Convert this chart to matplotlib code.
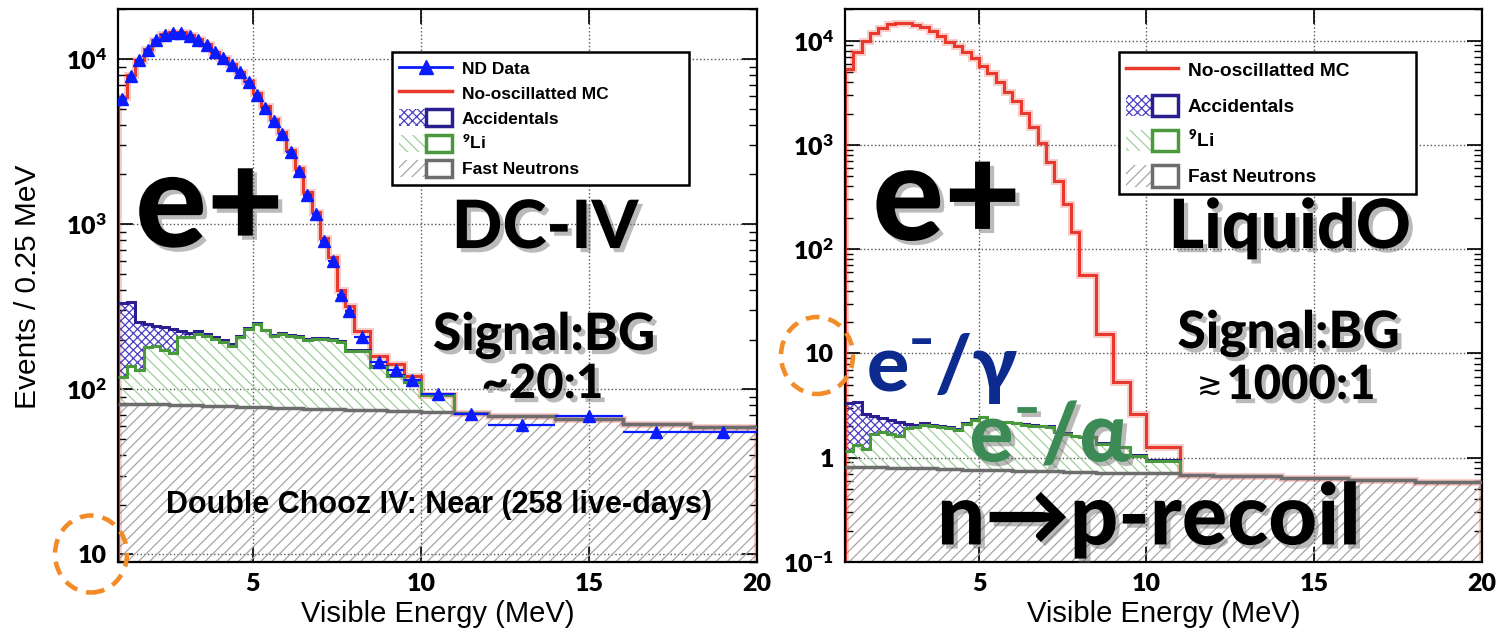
import numpy as np
import matplotlib
matplotlib.use('Agg')
import matplotlib.pyplot as plt
import matplotlib.patheffects as pe
from matplotlib.patches import Patch, Ellipse
from matplotlib.lines import Line2D
from matplotlib.legend_handler import HandlerTuple

# ---------------- data ----------------
# bin edges (MeV): 0.25 MeV up to 8, 0.5 up to 10, 1 up to 12, 2 up to 20
edges = np.concatenate([np.arange(1.0, 8.0, 0.25), [8.0, 8.5, 9.0, 9.5, 10.0, 11.0, 12.0, 14.0, 16.0, 18.0, 20.0]])

# Double Chooz IV near detector (events / 0.25 MeV)
dc_data = [5730, 7900, 9850, 11300, 13000, 14000, 14400, 14350, 13850, 13000,
           12150, 10950, 10100, 9200, 8350, 7300, 6050, 5050, 4230, 3520,
           2730, 2110, 1500, 1153, 794, 601, 374, 299,
           207, 146, 131, 114, 94, 71, 61, 69, 55, 55]
dc_mc = [5900, 8000, 9900, 11500, 13100, 14200, 14600, 14500, 14000, 13200,
         12300, 11100, 10200, 9300, 8400, 7400, 6200, 5200, 4350, 3600,
         2800, 2200, 1560, 1180, 830, 630, 400, 320,
         225, 160, 142, 120, 92, 72, 69, 66, 62, 59]
dc_fn = [82, 82, 82, 81, 81, 81, 80, 80, 80, 80, 79, 79, 79, 79, 78, 78, 78, 78,
         77, 77, 77, 77, 76, 76, 76, 76, 76, 75,
         75, 75, 74, 74, 73, 72, 69, 66, 62, 59]
dc_li9 = [37, 57, 48, 99, 103, 92, 87, 127, 127, 136, 132, 123, 115, 105, 129, 154,
          171, 149, 134, 139, 134, 130, 123, 126, 126, 124, 117, 95,
          95, 62, 47, 36, 19, 0, 0, 0, 0, 0]
dc_acc = [213, 197, 124, 70, 59, 65, 65, 19, 12, 8, 6, 5, 4, 4, 3, 3, 3, 3,
          2, 2, 2, 2, 2, 2, 2, 2, 2, 2,
          2, 2, 1, 1, 1, 0, 0, 0, 0, 0]

# LiquidO projection
lo_mc = [5350, 7730, 9850, 11850, 13250, 14460, 14890, 14790, 14230, 13430,
         12280, 10990, 9770, 8810, 7730, 6770, 5750, 4860, 3980, 3240,
         2660, 2030, 1480, 1040, 692, 455, 272, 145,
         56.7, 15.2, 5.3, 2.6, 1.26, 0.69, 0.67, 0.64, 0.61, 0.58]
lo_fn = [0.82, 0.82, 0.81, 0.81, 0.81, 0.80, 0.80, 0.80, 0.79, 0.79, 0.79, 0.78,
         0.78, 0.78, 0.77, 0.77, 0.77, 0.76, 0.76, 0.76, 0.75, 0.75, 0.75, 0.74,
         0.74, 0.74, 0.73, 0.73,
         0.73, 0.72, 0.72, 0.71, 0.71, 0.69, 0.67, 0.64, 0.61, 0.58]
lo_li9 = [0.33, 0.49, 0.41, 0.88, 0.95, 0.89, 0.83, 1.14, 1.17, 1.28, 1.24, 1.18,
          1.14, 1.08, 1.34, 1.54, 1.67, 1.52, 1.40, 1.44, 1.40, 1.33, 1.28, 1.26,
          1.24, 1.01, 0.96, 0.87,
          0.84, 0.64, 0.54, 0.34, 0.23, 0, 0, 0, 0, 0]
lo_acc = [2.18, 2.09, 1.42, 0.85, 0.65, 0.61, 0.56, 0.16, 0.10, 0.06, 0.05, 0.04,
          0.03, 0.03, 0.03, 0.02, 0.02, 0.02, 0.02, 0.02, 0.02, 0.02, 0.02, 0.02,
          0.02, 0.02, 0.02, 0.02,
          0.02, 0.01, 0.01, 0.01, 0.01, 0, 0, 0, 0, 0]

# ---------------- style ----------------
RED = '#e8392d'
BLUE = '#0a1bff'
PURPLE = '#2b1e8f'
PURPLE_H = '#4c3fc2'
GREEN = '#4a9a3d'
GREEN_H = '#9fd09a'
GRAY = '#6d6d6d'
GRAY_H = '#a5a5a5'
ORANGE = '#f28c28'

plt.rcParams['font.family'] = ['Liberation Sans', 'DejaVu Sans']
plt.rcParams['mathtext.fontset'] = 'custom'
plt.rcParams['mathtext.rm'] = 'Lato:heavy'
plt.rcParams['mathtext.bf'] = 'Lato:heavy'
plt.rcParams['mathtext.it'] = 'Lato:heavy'
plt.rcParams['hatch.linewidth'] = 0.9

BIG = ['Lato', 'DejaVu Sans']
shadow = [pe.withSimplePatchShadow(offset=(3, -3), shadow_rgbFace='#666666', alpha=0.45)]


def draw_panel(ax, mc, acc, li9, fn, ymin, yticks, ylabels):
    fn = np.array(fn, dtype=float)
    s_li = fn + np.array(li9)
    s_acc = s_li + np.array(acc)
    low = ymin * 1e-3
    ax.stairs(mc, edges, baseline=low, color=RED, lw=5, alpha=0.25, zorder=2)
    ax.stairs(mc, edges, baseline=low, color=RED, lw=2.2, zorder=2.1)
    # stacked backgrounds: hatch fills
    ax.stairs(fn, edges, baseline=low, fill=True, facecolor='none', edgecolor=GRAY_H,
              hatch='///', lw=0, zorder=1.5)
    ax.stairs(s_li, edges, baseline=fn, fill=True, facecolor='none', edgecolor=GREEN_H,
              hatch='\\\\\\', lw=0, zorder=1.5)
    ax.stairs(s_acc, edges, baseline=s_li, fill=True, facecolor='none', edgecolor=PURPLE_H,
              hatch='xxxx', lw=0, zorder=1.5)
    # outlines
    ax.stairs(s_acc, edges, baseline=None, color=PURPLE, lw=2.2, zorder=3)
    ax.stairs(s_li, edges, baseline=None, color=GREEN, lw=2.2, zorder=3.1)
    ax.stairs(fn, edges, baseline=None, color=GRAY, lw=2.5, zorder=3.2)

    ax.set_yscale('log')
    ax.set_xlim(1, 20)
    ax.set_ylim(ymin, 2e4)
    ax.set_xticks([5, 10, 15, 20])
    ax.set_xticklabels(['5', '10', '15', '20'], fontsize=18, fontweight='heavy', family=BIG)
    ax.set_yticks(yticks)
    ax.set_yticklabels(ylabels, fontsize=18, fontweight='heavy', family=BIG)
    ax.xaxis.set_minor_locator(matplotlib.ticker.NullLocator())
    ax.tick_params(which='both', direction='in', top=True, right=True)
    ax.tick_params(which='major', length=11, width=1.2, pad=8)
    ax.tick_params(which='minor', length=5.5, width=1.0)
    ax.grid(True, which='major', linestyle=':', color='#555555', lw=1.0)
    ax.set_axisbelow(True)
    for s in ax.spines.values():
        s.set_linewidth(1.6)


fig = plt.figure(figsize=(15.03, 6.32), dpi=100)
ax1 = fig.add_axes([0.0787, 0.1108, 0.4250, 0.8745])
ax2 = fig.add_axes([0.5622, 0.1108, 0.4235, 0.8745])

draw_panel(ax1, dc_mc, dc_acc, dc_li9, dc_fn, 9,
           [10, 100, 1000, 10000], ['10', '$10^{2}$', '$10^{3}$', '$10^{4}$'])
draw_panel(ax2, lo_mc, lo_acc, lo_li9, lo_fn, 0.1,
           [0.1, 1, 10, 100, 1000, 10000],
           ['$10^{-1}$', '1', '10', '$10^{2}$', '$10^{3}$', '$10^{4}$'])

# ND data points
centers = (edges[:-1] + edges[1:]) / 2
half = (edges[1:] - edges[:-1]) / 2
ax1.errorbar(centers, dc_data, xerr=half, fmt='^', color=BLUE, ms=8.5, lw=1.6,
             capsize=0, zorder=5)

# legends
hmap = {tuple: HandlerTuple(ndivide=None, pad=0)}
h_data = Line2D([], [], color=BLUE, marker='^', ms=10, lw=2)
h_mc = Line2D([], [], color=RED, lw=2.5)
h_acc = (Patch(fc='none', ec=PURPLE_H, hatch='xxxx', lw=0), Patch(fc='none', ec=PURPLE, lw=2.5))
h_li = (Patch(fc='none', ec=GREEN_H, hatch='\\\\\\', lw=0), Patch(fc='none', ec=GREEN, lw=2.5))
h_fn = (Patch(fc='none', ec=GRAY_H, hatch='///', lw=0), Patch(fc='none', ec=GRAY, lw=2.5))
leg_labels = ['No-oscillatted MC', 'Accidentals', '$^{9}$Li', 'Fast Neutrons']

leg1 = ax1.legend([h_data, h_mc, h_acc, h_li, h_fn], ['ND Data'] + leg_labels,
                  handler_map=hmap, loc='upper left', bbox_to_anchor=(0.428, 0.9235, 0.4655, 0),
                  mode='expand', borderaxespad=0, fancybox=False, framealpha=1,
                  edgecolor='black', prop={'weight': 'bold', 'size': 12.5},
                  handlelength=3.0, handleheight=1.18, handletextpad=0.6,
                  labelspacing=0.41, borderpad=0.45)
leg1.get_frame().set_linewidth(1.8)
leg1.set_zorder(6)

leg2 = ax2.legend([h_mc, h_acc, h_li, h_fn], leg_labels,
                  handler_map=hmap, loc='upper left', bbox_to_anchor=(0.430, 0.9235, 0.467, 0),
                  mode='expand', borderaxespad=0, fancybox=False, framealpha=1,
                  edgecolor='black', prop={'weight': 'bold', 'size': 13.8},
                  handlelength=2.7, handleheight=1.35, handletextpad=0.5,
                  labelspacing=0.72, borderpad=0.4)
leg2.get_frame().set_linewidth(1.8)
leg2.set_zorder(6)

# annotations, left panel
ax1.text(0.143, 0.5705, 'e+', transform=ax1.transAxes, ha='center', va='baseline',
         fontsize=96, fontweight='black', family=BIG, path_effects=shadow, zorder=7)
ax1.text(0.668, 0.568, 'DC-IV', transform=ax1.transAxes, ha='center', va='baseline',
         fontsize=48, fontweight='black', family=BIG, path_effects=shadow, zorder=7)
ax1.text(0.6665, 0.3836, 'Signal:BG', transform=ax1.transAxes, ha='center', va='baseline',
         fontsize=37, fontweight='black', family=BIG, path_effects=shadow, zorder=7)
ax1.text(0.664, 0.2967, '~20:1', transform=ax1.transAxes, ha='center', va='baseline',
         fontsize=34, fontweight='black', family=BIG, path_effects=shadow, zorder=7)
ax1.text(0.502, 0.0887, 'Double Chooz IV: Near (258 live-days)', transform=ax1.transAxes,
         ha='center', va='baseline', fontsize=22, fontweight='bold', zorder=7)

# annotations, right panel
ax2.text(0.160, 0.5826, 'e+', transform=ax2.transAxes, ha='center', va='baseline',
         fontsize=96, fontweight='black', family=BIG, path_effects=shadow, zorder=7)
ax2.text(0.6984, 0.568, 'LiquidO', transform=ax2.transAxes, ha='center', va='baseline',
         fontsize=49, fontweight='black', family=BIG, path_effects=shadow, zorder=7)
ax2.text(0.6969, 0.3872, 'Signal:BG', transform=ax2.transAxes, ha='center', va='baseline',
         fontsize=37, fontweight='black', family=BIG, path_effects=shadow, zorder=7)
ax2.text(0.7164, 0.2949, '1000:1', transform=ax2.transAxes, ha='center', va='baseline',
         fontsize=34, fontweight='black', family=BIG, path_effects=shadow, zorder=7)
ax2.text(0.572, 0.318, '\u2273', transform=ax2.transAxes, ha='center', va='center',
         fontsize=22, family=['DejaVu Sans'], zorder=7)
ax2.text(0.0346, 0.3094, 'e\u207b/\u03b3', transform=ax2.transAxes, ha='left', va='baseline',
         fontsize=57, fontweight='black', family=BIG, color='#0d2b8e', zorder=7)
ax2.text(0.1956, 0.1818, 'e\u207b/\u03b1', transform=ax2.transAxes, ha='left', va='baseline',
         fontsize=59, fontweight='black', family=BIG, color='#3c8a55', path_effects=shadow,
         zorder=7)
ax2.text(0.4775, 0.0317, 'n\u2192p-recoil', transform=ax2.transAxes, ha='center', va='baseline',
         fontsize=61, fontweight='black', family=BIG, path_effects=shadow, zorder=7)

# axis titles
fig.text(0.0186, 0.546, 'Events / 0.25 MeV', rotation=90, ha='center', va='center', fontsize=21.5)
fig.text(0.291, 0.0506, 'Visible Energy (MeV)', ha='center', va='top', fontsize=21)
fig.text(0.774, 0.0506, 'Visible Energy (MeV)', ha='center', va='top', fontsize=21)

# orange dashed circles around the "10" labels
for cx, cy in [(91, 554), (817, 355.5)]:
    fig.add_artist(Ellipse((cx / 1503, 1 - cy / 632), 72 / 1503, 77 / 632,
                           transform=fig.transFigure, fill=False, edgecolor=ORANGE,
                           lw=3.3, linestyle=(0, (3, 2)), zorder=10))

fig.savefig('out.png', dpi=100)
